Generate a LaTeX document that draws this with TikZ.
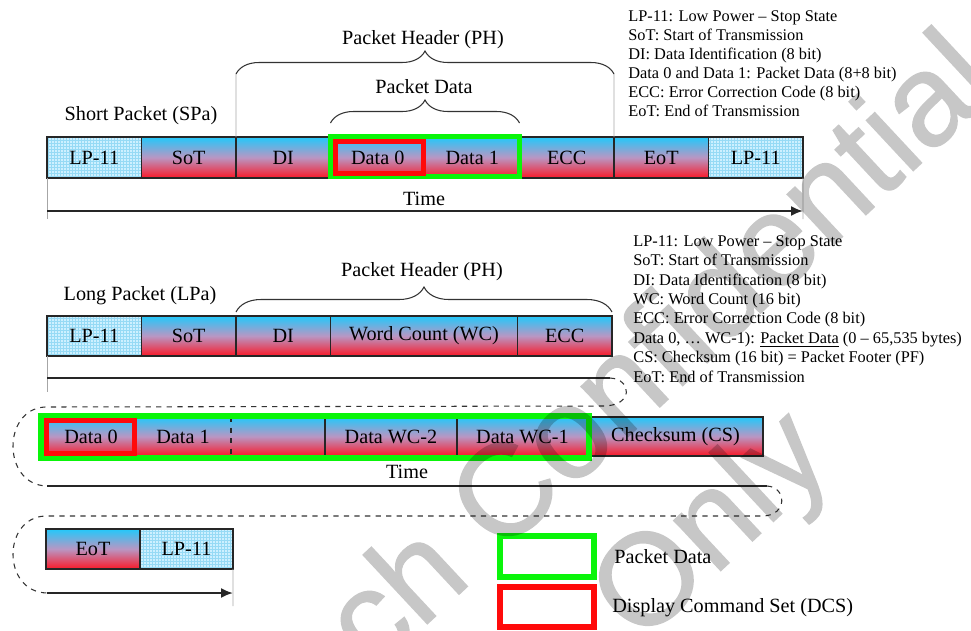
\documentclass[tikz,border=0pt]{standalone}
\usepackage{fontspec}
\setmainfont{Liberation Serif}
\newfontfamily\wmfont[FakeBold=1]{Liberation Sans}
\usetikzlibrary{positioning,arrows.meta,decorations.pathreplacing}

\definecolor{pktcyan}{RGB}{35,200,250}
\definecolor{pktmid}{RGB}{185,150,195}
\definecolor{pktred}{RGB}{250,25,40}
\definecolor{lpfill}{RGB}{205,240,255}
\definecolor{lpgrid}{RGB}{150,218,245}
\definecolor{pdgreen}{RGB}{10,245,10}
\definecolor{dcsred}{RGB}{255,10,10}

\newcommand{\pktfont}{\fontsize{11.5}{13.5}\selectfont}
\newcommand{\keyfont}{\fontsize{9.3}{10.8}\selectfont}

\tikzset{
  boxw/.style={minimum width=#1*0.02cm},
  boxh/.style={minimum height=#1*0.02cm},
  pkt/.style={rectangle, draw=black!85, line width=0.6pt, inner sep=0pt, outer sep=0pt,
    top color=pktcyan, bottom color=pktred, middle color=pktmid, font=\pktfont},
  lpbox/.style={rectangle, draw=black!85, line width=0.6pt, inner sep=0pt, outer sep=0pt,
    fill=lpfill, font=\pktfont,
    path picture={\draw[lpgrid, line width=0.25pt, step=0.06cm]
      (path picture bounding box.south west) grid (path picture bounding box.north east);}},
  hdr/.style={inner sep=0pt, font=\pktfont},
  keytext/.style={inner sep=0pt, anchor=north west, align=left, font=\keyfont},
  brc/.style={decorate, decoration={brace, amplitude=#1}, line width=0.6pt, black!80},
  leader/.style={gray!70, line width=0.4pt},
  timeline/.style={black!85, line width=1.1pt},
  timetip/.style={black!85, line width=1.1pt, -{Latex[length=0.24cm,width=0.2cm]}},
  loopline/.style={black!80, line width=0.6pt, dashed},
  pdframe/.style={pdgreen, line width=0.1cm},
  dcsframe/.style={dcsred, line width=0.1cm},
  wmark/.style={inner sep=0pt, font=\wmfont\fontsize{74}{80}\selectfont, text=black}
}

\begin{document}
\begin{tikzpicture}[x=0.02cm, y=-0.02cm]
  \useasboundingbox (0,0) rectangle (971,630);
  \clip (0,0) rectangle (971,630);

  % Short packet
  \node[lpbox, boxw=94.5, boxh=41] (spLP) at (94.25,157.5) {LP-11};
  \node[pkt, boxw=94.5, boxh=41, right=0pt of spLP] (spSoT) {SoT};
  \node[pkt, boxw=94.5, boxh=41, right=0pt of spSoT] (spDI) {DI};
  \node[pkt, boxw=94.5, boxh=41, right=0pt of spDI] (spD0) {Data 0};
  \node[pkt, boxw=94.5, boxh=41, right=0pt of spD0] (spD1) {Data 1};
  \node[pkt, boxw=94.5, boxh=41, right=0pt of spD1] (spECC) {ECC};
  \node[pkt, boxw=94.5, boxh=41, right=0pt of spECC] (spEoT) {EoT};
  \node[lpbox, boxw=94.5, boxh=41, right=0pt of spEoT] (spLPe) {LP-11};
  \draw[pdframe] (330.5,136.5) rectangle (519.5,176.5);
  \draw[dcsframe] (335.5,141.5) rectangle (423.5,173);

  \node[hdr] (spName) at (141,116) {Short Packet (SPa)};
  \node[hdr] (spPH) at (423,40) {Packet Header (PH)};
  \node[hdr] (spPD) at (424,87) {Packet Data};
  \node[hdr] (spTime) at (424,199) {Time};

  % Braces and leaders
  \coordinate (phL) at (236,74);
  \coordinate (phR) at (614,74);
  \draw[brc=0.46cm] (phL) -- (phR);
  \draw[leader] (phL) -- (spDI.north west);
  \draw[leader] (phR) -- (spEoT.north west);
  \coordinate (pdL) at (330.5,123);
  \coordinate (pdR) at (519.5,123);
  \draw[brc=0.46cm] (pdL) -- (pdR);

  % Time axis
  \coordinate (t1a) at (47,211);
  \coordinate (t1b) at (803,211);
  \coordinate (v1a) at (47,219);
  \coordinate (v1b) at (803,219);
  \draw[leader] (spLP.south west) -- (v1a);
  \draw[leader] (spLPe.south east) -- (v1b);
  \draw[timetip] (t1a) -- (t1b);

  \node[keytext] (spKey) at (628,10) {LP-11: Low Power -- Stop State\\
    SoT: Start of Transmission\\
    DI: Data Identification (8 bit)\\
    Data 0 and Data 1: Packet Data (8+8 bit)\\
    ECC: Error Correction Code (8 bit)\\
    EoT: End of Transmission};

  % Long packet, header
  \node[lpbox, boxw=94.5, boxh=40] (lpLP) at (94.25,336) {LP-11};
  \node[pkt, boxw=94.5, boxh=40, right=0pt of lpLP] (lpSoT) {SoT};
  \node[pkt, boxw=94.5, boxh=40, right=0pt of lpSoT] (lpDI) {DI};
  \node[pkt, boxw=187, boxh=40, right=0pt of lpDI] (lpWC) {Word Count (WC)};
  \node[pkt, boxw=94.5, boxh=40, right=0pt of lpWC] (lpECC) {ECC};

  \node[hdr] (lpName) at (140,296) {Long Packet (LPa)};
  \node[hdr] (lpPH) at (422,272) {Packet Header (PH)};
  \coordinate (lphL) at (236,312);
  \coordinate (lphR) at (612,312);
  \draw[brc=0.5cm] (lphL) -- (lphR);

  \node[keytext, font=\fontsize{9.3}{11.05}\selectfont] (lpKey) at (633,235) {LP-11: Low Power -- Stop State\\
    SoT: Start of Transmission\\
    DI: Data Identification (8 bit)\\
    WC: Word Count (16 bit)\\
    ECC: Error Correction Code (8 bit)\\
    Data 0, \dots{} WC-1): \underline{Packet Data} (0 -- 65,535 bytes)\\
    CS: Checksum (16 bit) = Packet Footer (PF)\\
    EoT: End of Transmission};

  % Long packet, payload
  \node[pkt, boxw=88, boxh=39] (lpD0) at (91,436.5) {Data 0};
  \node[pkt, draw=none, boxw=96, boxh=39, right=0pt of lpD0] (lpD1) {Data 1};
  \node[pkt, draw=none, boxw=94, boxh=39, right=0pt of lpD1] (lpBlk) {};
  \draw[black!85, line width=0.6pt] (lpD1.north west) rectangle (lpBlk.south east);
  \draw[black!85, line width=0.6pt, dashed] (lpBlk.north west) -- (lpBlk.south west);
  \node[pkt, boxw=132, boxh=39, right=0pt of lpBlk] (lpWC2) {Data WC-2};
  \node[pkt, boxw=131, boxh=39, right=0pt of lpWC2] (lpWC1) {Data WC-1};
  \node[pkt, boxw=175, boxh=39, right=0pt of lpWC1] (lpCS) {Checksum (CS)};
  \draw[pdframe, line width=0.12cm] (41,416) rectangle (589,458);
  \draw[dcsframe] (46.5,420.5) rectangle (134.5,453.5);
  \node[hdr] (lpTime) at (407,472) {Time};

  % Wrapped time axis
  \coordinate (t2a) at (47,378);
  \coordinate (t2b) at (610,378);
  \coordinate (v2) at (47,392);
  \draw[leader] (lpLP.south west) -- (v2);
  \draw[timeline, line width=0.8pt] (t2a) -- (t2b);
  \draw[loopline] (t2b) .. controls (632,379) and (634,406) .. (603,406)
    -- (45,407) .. controls (2,409) and (2,485) .. (47,486);
  \coordinate (t3a) at (47,486);
  \coordinate (t3b) at (767,486);
  \draw[timeline, line width=0.8pt] (t3a) -- (t3b);
  \draw[loopline] (t3b) .. controls (787,487) and (788,516) .. (762,516)
    -- (45,516) .. controls (2,518) and (2,592) .. (47,593);

  % Long packet, footer
  \node[pkt, boxw=94, boxh=40] (ftEoT) at (93,549) {EoT};
  \node[lpbox, boxw=93, boxh=40, right=0pt of ftEoT] (ftLP) {LP-11};
  \coordinate (t4a) at (47,593);
  \coordinate (t4b) at (233,593);
  \coordinate (v4) at (233,606);
  \draw[leader] (ftLP.south east) -- (v4);
  \draw[timetip] (t4a) -- (t4b);

  % Key
  \node[draw=pdgreen, line width=0.12cm, boxw=94, boxh=41] (keyPD) at (547,556.5) {};
  \node[draw=dcsred, line width=0.12cm, boxw=94, boxh=40] (keyDCS) at (547,607) {};
  \node[hdr, anchor=west] (keyPDt) at (614,557) {Packet Data};
  \node[hdr, anchor=west] (keyDCSt) at (612,608) {Display Command Set (DCS)};

  % Watermark
  \begin{scope}[transparency group, opacity=0.22]
    \node[wmark, rotate=43] (wmA) at (656,347) {ch Confidential};
    \node[wmark, rotate=43] (wmB) at (715,530) {Only};
  \end{scope}
\end{tikzpicture}
\end{document}
